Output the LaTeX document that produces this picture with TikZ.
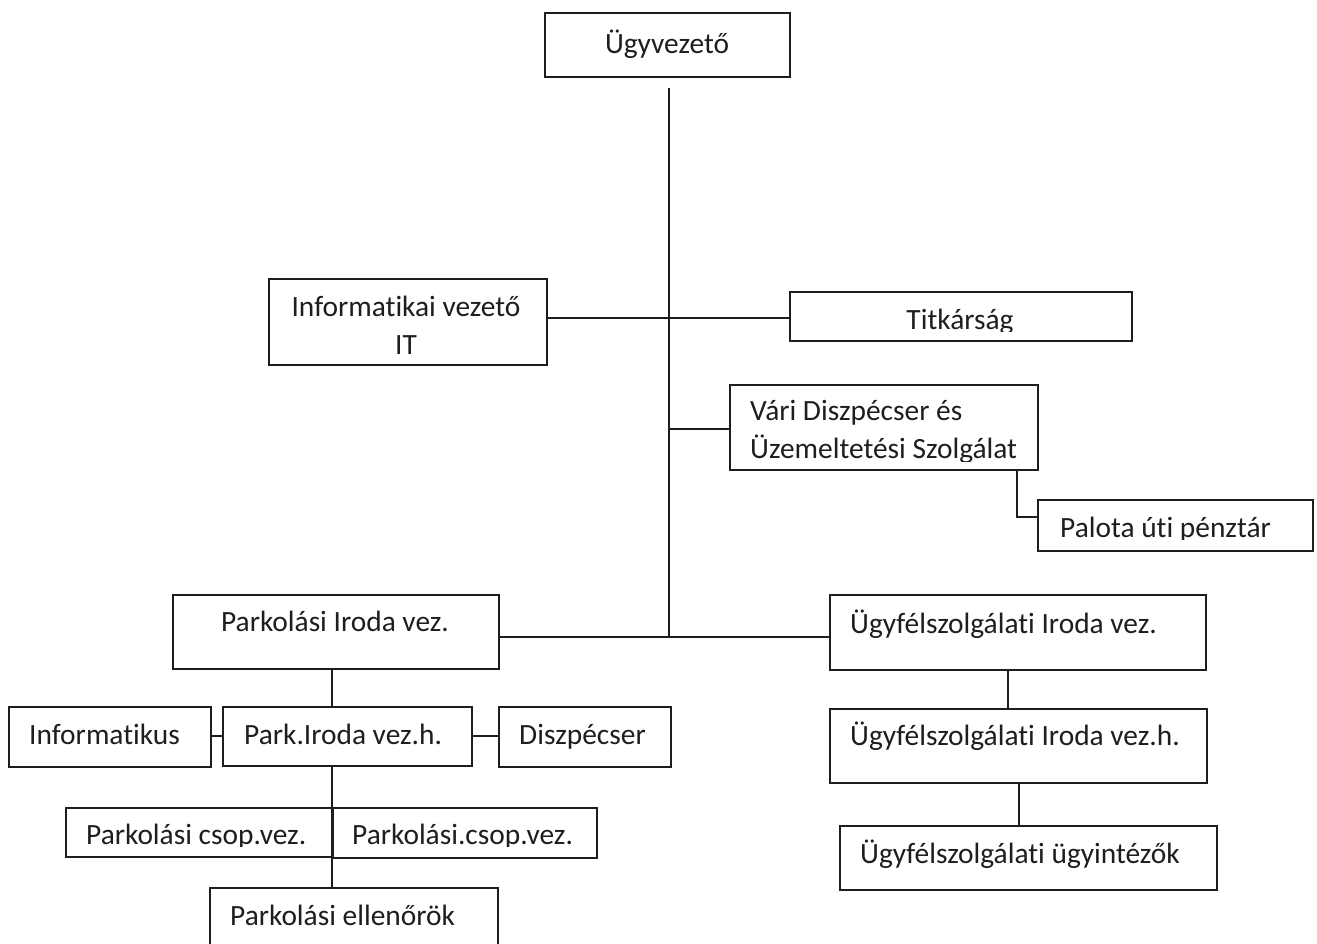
\documentclass[tikz,border=0pt]{standalone}
\usepackage{fontspec}
\setmainfont{Carlito}[Ligatures={NoCommon}]
\definecolor{ink}{HTML}{1E1E1E}
\begin{document}
\begin{tikzpicture}[x=1pt,y=-1pt,
  box/.style={draw=ink, line width=2pt, rectangle, inner sep=0pt, anchor=north west},
  txt/.style={text=ink, inner sep=0pt, font=\fontsize{29.4}{34}\selectfont},
  conn/.style={draw=ink, line width=1.6pt}]
\clip (0,0) rectangle (1317,943);
\fill[white] (0,0) rectangle (1317,943);
% boxes
\node[box, minimum width=245pt, minimum height=64pt] (ceo) at (544,12) {};
\node[box, minimum width=278pt, minimum height=86pt] (info) at (268,278) {};
\node[box, minimum width=342pt, minimum height=49pt] (titk) at (789,291) {};
\node[box, minimum width=308pt, minimum height=85pt] (vari) at (729,384) {};
\node[box, minimum width=275pt, minimum height=51pt] (palota) at (1037,499) {};
\node[box, minimum width=326pt, minimum height=74pt] (park) at (172,594) {};
\node[box, minimum width=376pt, minimum height=75pt] (ugyf) at (829,594) {};
\node[box, minimum width=377pt, minimum height=74pt] (ugyfh) at (829,708) {};
\node[box, minimum width=377pt, minimum height=64pt] (ugyint) at (839,825) {};
\node[box, minimum width=249pt, minimum height=59pt] (parkh) at (222,706) {};
\node[box, minimum width=202pt, minimum height=60pt] (infk) at (8,706) {};
\node[box, minimum width=172pt, minimum height=60pt] (diszp) at (498,706) {};
\node[box, minimum width=267pt, minimum height=49pt] (csop1) at (65,807) {};
\node[box, minimum width=264pt, minimum height=50pt] (csop2) at (332,807) {};
\node[box, minimum width=288pt, minimum height=70pt] (ellen) at (209,887) {};
% texts
\node[txt, anchor=base] (t-ceo) at (667,53) {Ügyvezető};
\node[txt, anchor=base] (t-info1) at (406,316) {Informatikai vezető};
\node[txt, anchor=base] (t-info2) at (406,354) {IT};
\begin{scope}
\clip (789,291) rectangle (1131,331);
\node[txt, anchor=base] (t-titk) at (960,329) {Titkárság};
\end{scope}
\node[txt, anchor=base west] (t-vari1) at (750,420) {Vári Diszpécser és};
\begin{scope}
\clip (729,430) rectangle (1037,461);
\node[txt, anchor=base west] (t-vari2) at (750,458) {Üzemeltetési Szolgálat};
\end{scope}
\begin{scope}
\clip (1037,499) rectangle (1312,539);
\node[txt, anchor=base west] (t-palota) at (1060,537) {Palota úti pénztár};
\end{scope}
\node[txt, anchor=base] (t-park) at (335,631) {Parkolási Iroda vez.};
\node[txt, anchor=base west] (t-ugyf) at (850,633) {Ügyfélszolgálati Iroda vez.};
\node[txt, anchor=base west] (t-ugyfh) at (850,745) {Ügyfélszolgálati Iroda vez.h.};
\node[txt, anchor=base west] (t-ugyint) at (860,863) {Ügyfélszolgálati ügyintézők};
\node[txt, anchor=base west] (t-parkh) at (244,744) {Park.Iroda vez.h.};
\node[txt, anchor=base west] (t-infk) at (29,744) {Informatikus};
\node[txt, anchor=base west] (t-diszp) at (519,744) {Diszpécser};
\begin{scope}
\clip (65,807) rectangle (596,846);
\node[txt, anchor=base west] (t-csop1) at (86,844) {Parkolási csop.vez.};
\node[txt, anchor=base west] (t-csop2) at (352,844) {Parkolási.csop.vez.};
\end{scope}
\node[txt, anchor=base west] (t-ellen) at (230,925) {Parkolási ellenőrök};
% junction coordinates
\coordinate (trtop) at (669,88);
\coordinate (trbot) at (669,637);
\coordinate (j1) at (669,318);
\coordinate (j2) at (669,429);
\coordinate (vp) at (1017,517);
\coordinate (xu1) at (1008,0);
\coordinate (xu2) at (1019,0);
\coordinate (xp) at (332,0);
\coordinate (yp) at (0,736);
% connectors
\draw[conn] (trtop) -- (trbot);
\draw[conn] (info.east |- j1) -- (titk.west |- j1);
\draw[conn] (j2) -- (vari.west |- j2);
\draw[conn] (vari.south -| vp) |- (palota.west |- vp);
\draw[conn] (park.east |- trbot) -- (ugyf.west |- trbot);
\draw[conn] (ugyf.south -| xu1) -- (ugyfh.north -| xu1);
\draw[conn] (ugyfh.south -| xu2) -- (ugyint.north -| xu2);
\draw[conn] (park.south -| xp) -- (parkh.north -| xp);
\draw[conn] (infk.east |- yp) -- (parkh.west |- yp);
\draw[conn] (parkh.east |- yp) -- (diszp.west |- yp);
\draw[conn] (parkh.south -| xp) -- (ellen.north -| xp);
\end{tikzpicture}
\end{document}
